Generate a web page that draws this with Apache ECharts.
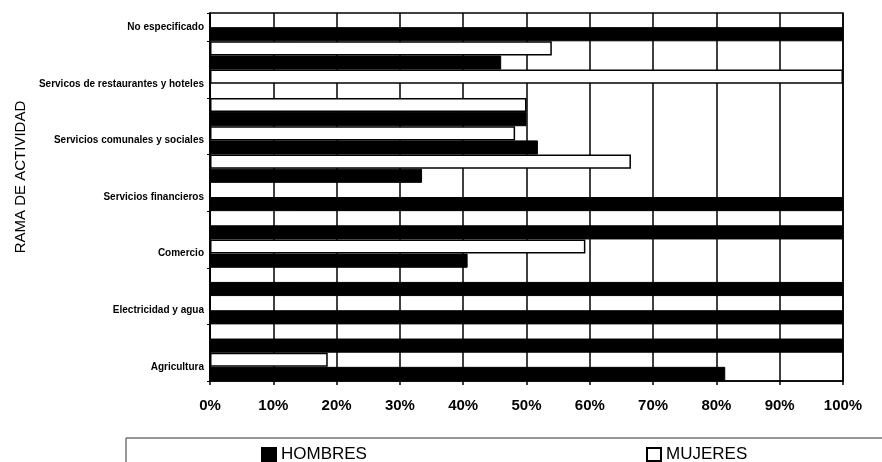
<!DOCTYPE html>
<html>
<head>
<meta charset="utf-8">
<script src="https://cdn.jsdelivr.net/npm/echarts@6/dist/echarts.min.js"></script>
<style>
  html, body { margin: 0; padding: 0; background: #fff; }
  #chart { width: 882px; height: 462px; }
</style>
</head>
<body>
<div id="chart"></div>
<script>
// Categories, bottom to top (labels shown on every other one)
const categories = [
  'Agricultura',
  'Industria manufacturera',
  'Electricidad y agua',
  'Construcción',
  'Comercio',
  'Transporte y comunicaciones',
  'Servicios financieros',
  'Administración pública',
  'Servicios comunales y sociales',
  'Servicios personales',
  'Servicos de restaurantes y hoteles',
  'Servicio doméstico',
  'No especificado'
];
const hombres = [81.4, 100, 100, 100, 40.7, 100, 100, 33.5, 51.8, 50, 0, 46, 100];
const mujeres = [18.6, 0, 0, 0, 59.3, 0, 0, 66.5, 48.2, 50, 100, 54, 0];
const xTicks = [0, 10, 20, 30, 40, 50, 60, 70, 80, 90, 100];

const chart = echarts.init(document.getElementById('chart'), null, { renderer: 'canvas' });
const legendText = { fontSize: 17, color: '#000', fontFamily: 'Liberation Sans, Arial, sans-serif' };
chart.setOption({
  animation: false,
  backgroundColor: '#fff',
  textStyle: { fontFamily: 'Liberation Sans, Arial, sans-serif', color: '#000' },
  grid: {
    left: 210, right: 39, top: 13, bottom: 81,
    show: true, borderColor: '#000', borderWidth: 1.5, backgroundColor: 'transparent'
  },
  legend: [
    {
      data: ['HOMBRES'], left: 256, top: 441, icon: 'rect', itemWidth: 14, itemHeight: 13, itemGap: 4,
      textStyle: legendText
    },
    {
      data: ['MUJERES'], left: 641, top: 441, icon: 'rect', itemWidth: 14, itemHeight: 13, itemGap: 4,
      textStyle: legendText
    }
  ],
  graphic: [
    {
      type: 'polyline',
      shape: { points: [[126, 462], [126, 438], [882, 438]] },
      style: { stroke: '#333', lineWidth: 1, fill: null }
    }
  ],
  xAxis: {
    type: 'value', min: xTicks[0], max: xTicks[xTicks.length - 1], interval: 10,
    axisLine: { show: true, lineStyle: { color: '#000', width: 1.5 } },
    axisTick: { show: true, length: 4, lineStyle: { color: '#000', width: 1.5 } },
    axisLabel: {
      formatter: '{value}%', fontSize: 15, fontWeight: 'bold', color: '#000', margin: 17
    },
    splitLine: { show: true, lineStyle: { color: '#000', width: 1.5 } }
  },
  yAxis: {
    type: 'category', data: categories,
    name: 'RAMA DE ACTIVIDAD', nameLocation: 'middle', nameGap: 181, nameRotate: 90,
    nameTextStyle: { fontSize: 15, color: '#000', padding: [0, 0, 0, 40] },
    axisLine: { show: true, lineStyle: { color: '#000', width: 1.5 } },
    axisTick: { show: true, length: 3, interval: 1, lineStyle: { color: '#000' } },
    axisLabel: { interval: 1, fontSize: 10, fontWeight: 'bold', color: '#000', margin: 6 },
    splitLine: { show: false }
  },
  series: [
    {
      name: 'MUJERES', type: 'bar', data: mujeres,
      barGap: '0%', barCategoryGap: '0%',
      itemStyle: { color: '#fff', borderColor: '#000', borderWidth: 1.5 }
    },
    {
      name: 'HOMBRES', type: 'bar', data: hombres,
      barGap: '0%', barCategoryGap: '0%',
      itemStyle: { color: '#000', borderColor: '#000', borderWidth: 1 }
    }
  ]
});
</script>
</body>
</html>
